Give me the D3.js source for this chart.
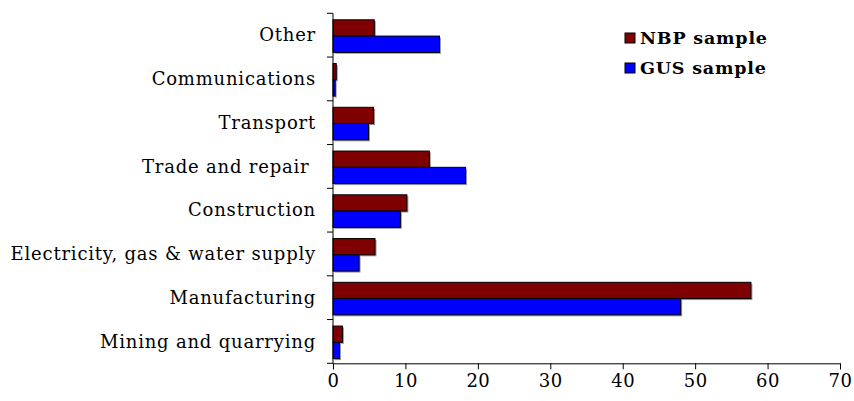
<!DOCTYPE html>
<html>
<head>
<meta charset="utf-8">
<script src="https://cdn.jsdelivr.net/npm/d3@7"></script>
<style>
  html, body { margin: 0; padding: 0; background: #fff; }
  svg { display: block; }
  text { font-family: "DejaVu Serif", "Liberation Serif", serif; fill: #000; white-space: pre; }
</style>
</head>
<body>
<svg id="chart" width="854" height="401"></svg>
<script>
// Sector structure of the two samples (share of firms, %)
const categories = [
  "Other",
  "Communications",
  "Transport",
  "Trade and repair ",
  "Construction",
  "Electricity, gas & water supply",
  "Manufacturing",
  "Mining and quarrying"
];
const nbpValues = [5.7, 0.45, 5.6, 13.3, 10.2, 5.8, 57.7, 1.3];
const gusValues = [14.7, 0.3, 4.9, 18.3, 9.3, 3.6, 48.0, 0.9];
const seriesNames = ["NBP sample", "GUS sample"];
const seriesColors = ["#7f0000", "#0000ff"];
const xTicks = [0, 10, 20, 30, 40, 50, 60, 70];

const svg = d3.select("#chart");

const x = d3.scaleLinear().domain([0, 70]).range([333, 840]);
const y = d3.scaleBand().domain(categories).range([13.3, 363.3]).paddingInner(0).paddingOuter(0);
const sub = d3.scaleBand().domain(seriesNames)
  .range([6.5, y.bandwidth() - 4.7]).paddingInner(0);

const rows = categories.map((c, i) => ({
  cat: c,
  vals: [
    { name: seriesNames[0], v: nbpValues[i], color: seriesColors[0] },
    { name: seriesNames[1], v: gusValues[i], color: seriesColors[1] }
  ]
}));

// bars with a faint drop shadow and a black outline
const groups = svg.append("g").selectAll("g").data(rows).join("g")
  .attr("transform", d => `translate(0,${y(d.cat)})`);

groups.selectAll("rect.shadow").data(d => d.vals).join("rect")
  .attr("class", "shadow")
  .attr("x", x(0) + 1.5)
  .attr("y", d => sub(d.name) + 1.5)
  .attr("width", d => x(d.v) - x(0))
  .attr("height", sub.bandwidth())
  .attr("fill", "#9a9a9a");

groups.selectAll("rect.bar").data(d => d.vals).join("rect")
  .attr("class", "bar")
  .attr("x", x(0))
  .attr("y", d => sub(d.name))
  .attr("width", d => x(d.v) - x(0))
  .attr("height", sub.bandwidth())
  .attr("fill", d => d.color)
  .attr("stroke", "#000")
  .attr("stroke-width", 1);

// x axis
const xAxis = svg.append("g")
  .attr("transform", `translate(0,${y.range()[1]})`)
  .call(d3.axisBottom(x).tickValues(xTicks).tickSize(6).tickPadding(5).tickFormat(d3.format("d")));
xAxis.select(".domain").attr("stroke", "#000");
xAxis.selectAll(".tick line").attr("stroke", "#000");
xAxis.selectAll("text")
  .attr("font-family", '"DejaVu Serif", serif')
  .attr("font-size", 18)
  .attr("letter-spacing", 0.5)
  .attr("fill", "#000");

// y axis: line, ticks at band boundaries, labels at band centres
const yAxis = svg.append("g").attr("transform", `translate(${x(0)},0)`);
yAxis.append("line")
  .attr("x1", 0).attr("x2", 0)
  .attr("y1", y.range()[0]).attr("y2", y.range()[1])
  .attr("stroke", "#000");
const boundaries = d3.range(categories.length + 1).map(i => y.range()[0] + i * y.step());
yAxis.selectAll("line.tick").data(boundaries).join("line")
  .attr("class", "tick")
  .attr("x1", -6).attr("x2", 0)
  .attr("y1", d => d).attr("y2", d => d)
  .attr("stroke", "#000");
yAxis.selectAll("text").data(categories).join("text")
  .attr("x", -17)
  .attr("y", d => y(d) + y.bandwidth() / 2)
  .attr("dy", "0.35em")
  .attr("text-anchor", "end")
  .attr("font-size", 18)
  .attr("letter-spacing", 0.8)
  .text(d => d);

// legend
const legend = svg.append("g").attr("transform", "translate(625,33)");
const li = legend.selectAll("g").data(seriesNames).join("g")
  .attr("transform", (d, i) => `translate(0,${i * 30})`);
li.append("rect")
  .attr("width", 10).attr("height", 10)
  .attr("fill", (d, i) => seriesColors[i])
  .attr("stroke", "#000").attr("stroke-width", 1);
li.append("text")
  .attr("x", 15).attr("y", 5).attr("dy", "0.35em")
  .attr("font-size", 17.5)
  .attr("font-weight", "bold")
  .attr("letter-spacing", 0.8)
  .text(d => d);
</script>
</body>
</html>
